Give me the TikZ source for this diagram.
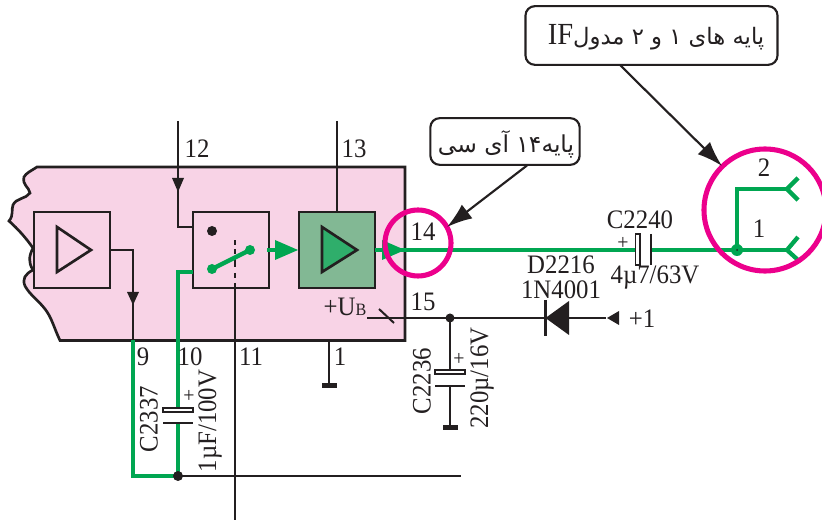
\documentclass[tikz,border=0pt]{standalone}
\usepackage{fontspec}
\setmainfont[FakeStretch=0.93]{Liberation Serif}
\newfontfamily\arabicfont[Script=Arabic]{DejaVu Sans}
\TeXXeTstate=1
\usetikzlibrary{arrows.meta}
\definecolor{pinkfill}{HTML}{F8D3E6}
\definecolor{gr}{HTML}{00A651}
\definecolor{boxgreen}{HTML}{82B894}
\definecolor{trigreen}{HTML}{2FAE6B}
\definecolor{mag}{HTML}{EC008C}
\definecolor{ink}{HTML}{231F20}
\tikzset{
  x=0.75pt,y=-0.75pt,
  wire/.style={draw=ink,line width=2pt},
  thin wire/.style={draw=ink,line width=1.5pt},
  gwire/.style={draw=gr,line width=3.6pt},
  blockbox/.style={draw=ink,line width=2pt},
  ring/.style={draw=mag,line width=3.8pt},
  lbl/.style={inner sep=0pt,font=\fontsize{20}{21}\selectfont,text=ink},
  plus/.style={inner sep=0pt,font=\fontsize{16}{17}\selectfont,text=ink},
  callout/.style={draw=ink,line width=1.6pt,rounded corners=7pt,fill=white},
  ptr/.style={draw=ink,line width=1.6pt,-{Latex[length=19pt,width=13pt]}},
  blackhead/.style={fill=ink,draw=none},
  plate/.style={draw=ink,line width=0.9pt,fill=white},
  gndbar/.style={fill=ink,draw=none},
}
\begin{document}
\begin{tikzpicture}
\useasboundingbox (0,0) rectangle (822,520);
\clip (0,0) rectangle (822,520);
% IC body
\draw[blockbox,fill=pinkfill] (37,167) -- (405,167) -- (405,340.5) -- (60,340.5)
 .. controls (54,328) and (52,318) .. (45,309)
 .. controls (38,300) and (30,295) .. (25,286)
 .. controls (22,279) and (25,274) .. (33,270)
 .. controls (28,262) and (29,256) .. (33,248)
 .. controls (26,238) and (18,229) .. (9,221)
 .. controls (14,215) and (11,210) .. (13,205)
 .. controls (16,198) and (26,199) .. (30,193)
 .. controls (29,187) and (22,185) .. (24,177)
 .. controls (26,173) and (31,171) .. (37,167) -- cycle;
% pins (black)
\coordinate (p12) at (178,121);
\coordinate (p13) at (337,121);
\node[blockbox,fill=pinkfill,minimum size=57pt,inner sep=0pt] (amp) at (72,250) {};
\node[blockbox,fill=pinkfill,minimum size=57pt,inner sep=0pt] (sw) at (231,250) {};
\node[blockbox,fill=boxgreen,minimum size=57pt,inner sep=0pt] (out) at (337,250) {};
\draw[blockbox] (57,227) -- (91,250) -- (57,272) -- cycle;
\draw[blockbox,fill=trigreen] (322,227) -- (357,250) -- (322,272) -- cycle;
\draw[wire] (p12) -- (178,227) -- (193,227);
\fill[blackhead] (172,178) -- (184,178) -- (178,192) -- cycle;
\draw[wire] (p13) -- (out.north);
\draw[wire] (110,250) -- (133,250) -- (133,347);
\fill[blackhead] (127,292) -- (139,292) -- (133,305) -- cycle;
% switch
\fill[ink] (212,231) circle (5);
\coordinate (swa) at (212,269);
\coordinate (swb) at (250,250);
\draw[wire] (235,240.5) -- (235,245);
\draw[wire] (235,249) -- (235,254);
\draw[wire] (235,258) -- (235,267);
\draw[wire] (235,273) -- (235,278);
\draw[wire] (235,283) -- (235,520);
\draw[gr,line width=3.2pt] (swa) -- (swb);
\fill[gr] (swa) circle (5) (swb) circle (5);
% green wiring
\draw[gwire] (193,272) -- (178,272) -- (178,409);
\draw[gwire] (178,424) -- (178,476);
\draw[gwire] (133,340) -- (133,476) -- (178,476);
\draw[gr,line width=3.6pt] (267,250) -- (277,250);
\fill[gr] (275,240) -- (298,250) -- (275,260) -- cycle;
\draw[gr,line width=3.6pt] (375,250) -- (383,250);
\fill[gr] (382,240) -- (405,250) -- (382,260) -- cycle;
\draw[gwire] (400,250) -- (635,250);
\draw[gwire] (651,250) -- (786,250);
\draw[gwire] (737,250) -- (737,189) -- (787,189);
\draw[gr,line width=3.2pt] (798,237) -- (787,250) -- (798,260);
\draw[gr,line width=3.2pt] (798,178) -- (787,189) -- (798,200);
\fill[gr] (737,250) circle (6);
\fill[ink] (737,250) circle (1);
% C2240
\draw[plate] (635.5,234) rectangle (640,265);
\draw[wire] (651,234) -- (651,265);
% bottom rail
\draw[thin wire] (178,476) -- (461,476);
\fill[ink] (178,476) circle (5);
% C2337
\draw[plate] (163,408) rectangle (193,412);
\draw[wire] (163,423) -- (193,423);
% pin 1
\draw[wire] (329,340) -- (329,385);
\fill[gndbar] (322,383) rectangle (337,388);
% pin 15
\draw[thin wire] (367,318) -- (606,318);
\draw[thin wire] (379,309) -- (394,323);
\fill[ink] (450,318) circle (4.5);
\draw[wire] (545.5,300) -- (545.5,336);
\fill[blackhead] (545.5,318) -- (569,301) -- (569,335) -- cycle;
\fill[blackhead] (607,318) -- (619,311) -- (619,325) -- cycle;
% C2236
\draw[wire] (450,318) -- (450,372);
\draw[wire] (450,386) -- (450,428);
\draw[plate] (435,370) rectangle (465,374);
\draw[wire] (435,386) -- (465,386);
\fill[gndbar] (443,425) rectangle (458,430);
% rings
\draw[ring] (418,243) circle (33);
\draw[ring] (765,210) circle (61);
% callouts
\node[callout,minimum width=112pt,minimum height=35pt,inner sep=0pt] (c14) at (505,141.5) {};
\node[inner sep=0pt,text=ink,font=\fontsize{17.5}{19}\selectfont] (c14t) at (506,144) {\arabicfont\beginR پایه\beginL ۱۴\endL{} آی سی\endR};
\node[callout,minimum width=189pt,minimum height=44pt,inner sep=0pt] (cif) at (651.5,35.5) {};
\node[inner sep=0pt,text=ink,font=\fontsize{17}{19}\selectfont] (cift) at (656,37) {\arabicfont\beginR پایه های ۱ و ۲ مدول\beginL{\fontsize{23}{24}\selectfont\rmfamily IF}\endL\endR};
\coordinate (a14) at (447,227);
\coordinate (aif) at (722,166);
\draw[ptr] (527,165.5) -- (a14);
\draw[ptr] (620,65) -- (aif);
% labels
\node[lbl] (l12) at (197,149) {12};
\node[lbl] (l13) at (354,149) {13};
\node[lbl] (l14) at (423,232) {14};
\node[lbl] (l15) at (423,302) {15};
\node[lbl] (l9) at (143,357) {9};
\node[lbl] (l10) at (190,357) {10};
\node[lbl] (l11) at (251,357) {11};
\node[lbl] (l1) at (340,357) {1};
\node[lbl] (lub) at (345,307) {+U\raisebox{0pt}{\fontsize{13}{14}\selectfont B}};
\node[lbl] (lc40) at (640,220) {C2240};
\node[lbl] (lc40v) at (655,278) {4µ7/63V};
\node[lbl] (ld) at (561,265) {D2216};
\node[lbl] (ln) at (561,289.5) {1N4001};
\node[lbl] (ln2) at (764,168) {2};
\node[lbl] (ln1) at (759,229) {1};
\node[plus] (pl40) at (623,243.5) {+};
\node[plus] (pl37) at (189,396) {+};
\node[plus] (pl36) at (459,359) {+};
\node[lbl,rotate=90] (lc37) at (149,419) {C2337};
\node[lbl,rotate=90] (lc37v) at (210,421) {1µF/100V};
\node[lbl,rotate=90] (lc36) at (422,381) {C2236};
\node[lbl,rotate=90] (lc36v) at (482,378) {220µ/16V};
\node[lbl] (lp1) at (642,319) {+1};
\end{tikzpicture}
\end{document}
